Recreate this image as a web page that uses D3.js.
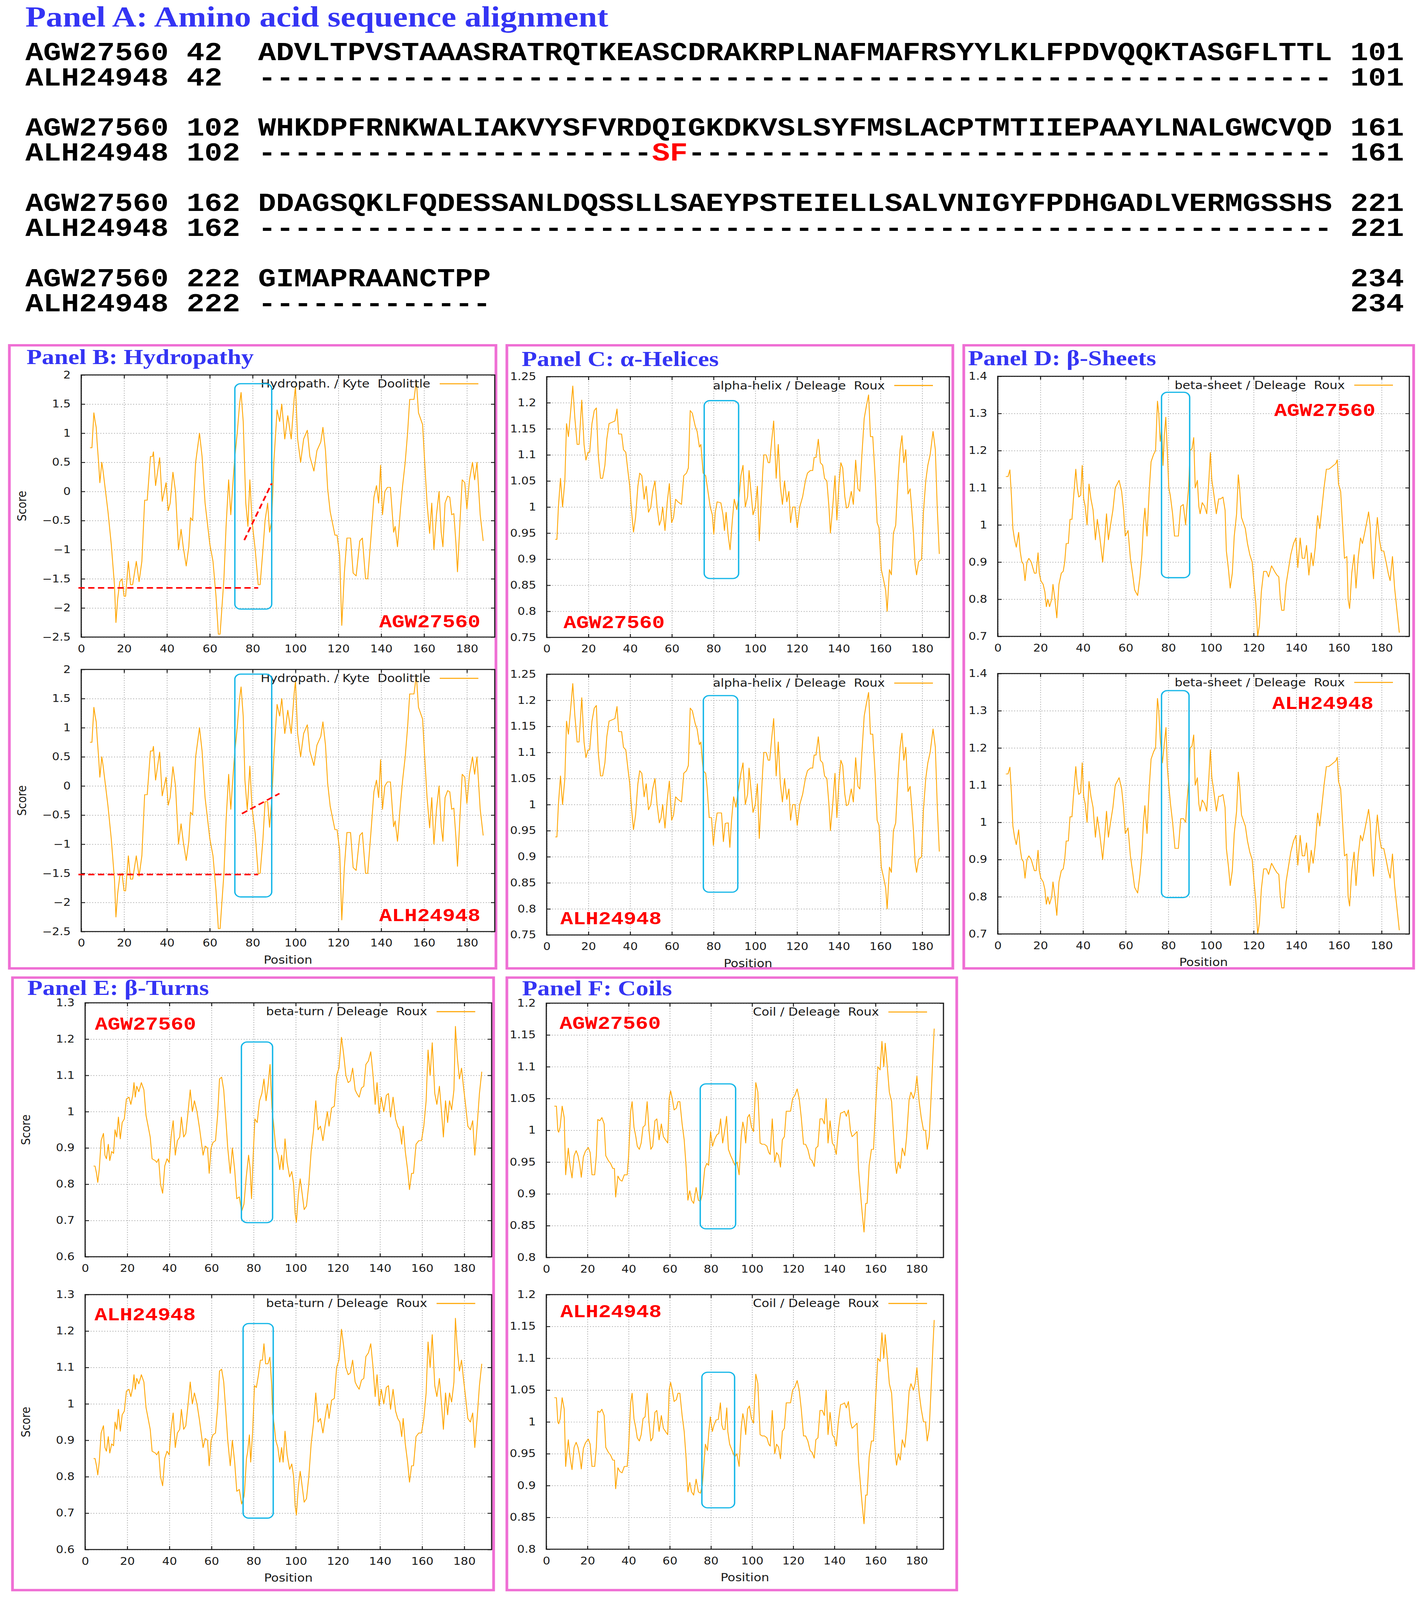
<!DOCTYPE html>
<html>
<head>
<meta charset="utf-8">
<title>AGW27560 vs ALH24948 - alignment and ProtScale profiles</title>
<script src="https://cdn.jsdelivr.net/npm/d3@7"></script>
<style>
  html, body { margin: 0; padding: 0; background: #fff; overflow: hidden; }
  #chart-area svg { display: block; width: 100vw; height: 100vh; }
  text { white-space: pre; }
</style>
</head>
<body>
<div id="chart-area"></div>
<script>
/* ---- data ---- */

var seqNames = ["AGW27560", "ALH24948"];

// alignment blocks: [start, end, AGW27560 residues, ALH24948 residues]
var alignBlocks = [
	[42, 101, "ADVLTPVSTAAASRATRQTKEASCDRAKRPLNAFMAFRSYYLKLFPDVQQKTASGFLTTL",
	          "------------------------------------------------------------"],
	[102, 161, "WHKDPFRNKWALIAKVYSFVRDQIGKDKVSLSYFMSLACPTMTIIEPAAYLNALGWCVQD",
	           "----------------------SF------------------------------------"],
	[162, 221, "DDAGSQKLFQDESSANLDQSSLLSAEYPSTEIELLSALVNIGYFPDHGADLVERMGSSHS",
	           "------------------------------------------------------------"],
	[222, 234, "GIMAPRAANCTPP",
	           "-------------"]
];

var xTicks = [0, 20, 40, 60, 80, 100, 120, 140, 160, 180];
var hydroTicks = [-2.5, -2, -1.5, -1, -0.5, 0, 0.5, 1, 1.5, 2];
var alphaTicks = [0.75, 0.8, 0.85, 0.9, 0.95, 1, 1.05, 1.1, 1.15, 1.2, 1.25];
var sheetTicks = [0.7, 0.8, 0.9, 1, 1.1, 1.2, 1.3, 1.4];
var turnTicks = [0.6, 0.7, 0.8, 0.9, 1, 1.1, 1.2, 1.3];
var coilTicks = [0.8, 0.85, 0.9, 0.95, 1, 1.05, 1.1, 1.15, 1.2];

// [position, score] - Kyte & Doolittle hydropathy, AGW27560
var hydroAGW = [[4.1,0.75],[5,0.75],[5.6,1.15],[5.9,1.35],[6.5,1.2],[7,1.1],[7.4,0.85],[8.1,0.5],[8.7,0.15],[9.6,0.5],[10.2,0.35],[12.5,-0.35],[14,-0.9],[15.5,-1.6],[16.2,-2.25],[17,-1.85],[18,-1.55],[19,-1.5],[20,-1.8],[20.7,-1.8],[22,-1.2],[23,-1.6],[24,-1.6],[25.7,-1.2],[27,-1.55],[28.3,-1.2],[29.6,-0.15],[30.8,-0.15],[32.3,0.6],[33.3,0.6],[33.7,0.68],[34.7,0.1],[36.6,0.58],[37.8,-0.17],[39.6,0.15],[40.6,-0.33],[41.5,-0.2],[42.8,0.33],[44,0],[45.4,-1.0],[46.6,-0.65],[47.6,-0.95],[49,-1.28],[50.2,-0.95],[51,-0.45],[52,-0.5],[53.4,0.5],[55.2,1.0],[56.4,0.6],[57.8,-0.2],[60,-0.9],[61.5,-1.2],[62.9,-1.8],[64,-2.45],[64.8,-2.45],[66.6,-1.5],[67.6,-0.6],[68.8,0.2],[69.8,-0.4],[70.9,0.2],[71.7,0.6],[72.8,1.0],[73.9,1.5],[74.6,1.7],[75.6,1.2],[76.8,-0.2],[77.8,-0.6],[78.7,0.2],[79.7,-0.5],[81.2,-1.0],[82.6,-1.6],[83.5,-1.6],[84.8,-1.0],[85.8,-0.5],[87,-0.2],[87.9,-0.7],[88.9,-0.5],[89.9,0.5],[91.4,1.4],[92.6,1.2],[93.6,1.5],[95,0.9],[96.4,1.3],[98,0.9],[99.4,1.6],[100,1.8],[101,0.9],[102.4,0.5],[103.8,0.9],[105.5,1.05],[106.7,0.6],[108.6,0.35],[110,0.7],[111.8,0.85],[112.8,1.1],[114,0.7],[115,0.05],[116.2,-0.35],[118.4,-0.75],[119.4,-0.75],[120.6,-1.1],[121.6,-2.3],[122.8,-1.4],[124,-0.8],[125.7,-0.8],[126.9,-1.4],[128.3,-1.45],[130,-0.85],[131.2,-0.8],[132.7,-1.5],[133.7,-1.5],[135.2,-0.8],[136.6,-0.1],[137.8,0.1],[138.8,-0.2],[139.7,0.45],[140.6,-0.4],[141.7,0],[142.9,0.07],[144.3,0.07],[145.8,-0.7],[146.5,-0.6],[147.6,-0.95],[149,-0.3],[150,0.1],[151.2,0.5],[152.3,1.0],[153.3,1.58],[155.3,1.58],[156.4,1.9],[157.4,1.35],[159.3,1.15],[160.3,0.5],[161.4,-0.2],[162.6,-0.72],[163.6,-0.2],[164.6,-1.0],[165.8,-0.4],[167,0],[168,-0.7],[168.8,-0.95],[169.8,-0.2],[171,-0.08],[172,-0.1],[172.9,-0.4],[173.9,-0.38],[174.9,-0.9],[175.6,-1.38],[176.8,-0.5],[177.8,0.2],[179,0.15],[180,-0.3],[181.2,0.2],[182.6,0.5],[183.6,0.2],[184.7,0.5],[186.2,-0.4],[187.6,-0.85]];
// ALH24948 differs only around the SF substitution
var hydroALHWindow = [[76.4,0.1],[77.5,-0.41],[78.7,0.34],[79.7,-0.37],[81.2,-0.82],[82.6,-1.51],[83.5,-1.5],[84.8,-0.92],[85.8,-0.27],[87,-0.27],[87.9,-0.71],[88.9,-0.24]];

// alpha-helix / Deleage & Roux
var alphaAGW = [[4.1,0.938],[4.9,0.938],[5.6,1.0],[6.6,1.055],[7.6,1.0],[8.7,1.05],[9.5,1.16],[10.4,1.135],[11.4,1.18],[12.5,1.232],[13.5,1.17],[14.6,1.12],[15.5,1.12],[16.8,1.205],[17.9,1.12],[18.8,1.09],[19.8,1.105],[20.6,1.105],[21.7,1.16],[22.8,1.185],[23.8,1.19],[24.7,1.1],[25.8,1.055],[26.8,1.055],[27.9,1.08],[28.8,1.13],[29.9,1.16],[31.6,1.163],[32.7,1.165],[33.7,1.188],[34.5,1.14],[35.9,1.14],[36.8,1.11],[37.9,1.105],[38.9,1.07],[39.8,1.04],[40.5,1.0],[41.6,0.952],[42.6,0.98],[43.7,1.04],[44.6,1.065],[45.6,1.06],[46.7,1.015],[47.7,1.04],[48.8,0.99],[49.9,1.0],[50.8,1.03],[51.9,1.05],[52.9,1.0],[54,0.965],[54.8,0.975],[55.6,1.0],[56.7,0.955],[57.8,1.01],[58.8,1.045],[59.9,0.97],[60.8,0.98],[61.8,1.015],[62.9,1.01],[64.6,1.005],[65.7,1.06],[67,1.065],[67.9,1.075],[68.8,1.185],[69.8,1.18],[71.2,1.155],[72.1,1.145],[73.2,1.115],[73.9,1.12],[75,1.065],[76.2,1.06],[77.3,1.03],[78.4,1.0],[79.4,0.985],[80.1,0.948],[80.8,0.99],[81.7,1.01],[83.5,1.008],[84.5,0.985],[85.2,0.955],[86,0.99],[87,0.945],[87.9,0.918],[89,0.975],[89.9,1.015],[91.1,0.995],[92.2,1.02],[93.1,1.06],[94.1,1.08],[95.2,1.0],[96.3,1.02],[97,1.07],[97.9,1.03],[98.9,0.985],[100,1.0],[101,1.04],[101.9,0.935],[102.7,1.0],[103.6,1.07],[104.1,1.1],[105.2,1.1],[106.2,1.085],[106.9,1.085],[107.8,1.125],[108.8,1.165],[109.3,1.12],[110,1.055],[111,1.12],[112,1.04],[113,1.005],[114,1.05],[115.1,1.01],[116.1,1.03],[116.9,0.97],[117.9,1.0],[119,1.0],[120.1,0.96],[121.3,1.0],[122.7,1.02],[124,1.05],[125,1.065],[126.4,1.07],[127.5,1.07],[128.2,1.095],[129.1,1.095],[130.2,1.13],[131.2,1.085],[132.3,1.08],[133.2,1.055],[134.3,1.05],[135.3,1.0],[136,0.95],[137.1,1.0],[138.2,1.06],[139.1,0.975],[140.1,1.045],[141,1.085],[141.9,1.075],[142.9,1.02],[143.7,0.998],[144.6,1.0],[146,1.03],[147,1.005],[148.1,1.09],[149.2,1.035],[150.1,1.03],[151.1,1.1],[152.2,1.17],[153.3,1.195],[154.3,1.215],[155.2,1.135],[156.3,1.135],[157.4,1.06],[158.4,0.97],[159.3,0.96],[160.4,0.88],[161.5,0.86],[162.5,0.84],[163.2,0.8],[164.3,0.88],[165.2,0.87],[166.2,0.95],[167.3,0.965],[168.4,1.05],[169.4,1.11],[170.3,1.137],[171.2,1.085],[172.1,1.11],[173.2,1.025],[174.2,1.035],[174.9,1.0],[175.8,0.95],[176.6,0.89],[177.3,0.87],[178.3,0.895],[179.7,0.9],[180.6,0.99],[181.7,1.05],[182.7,1.08],[183.8,1.1],[185.2,1.145],[186.3,1.11],[187.2,1.0],[188.2,0.91]];
var alphaALHWindow = [[76.9,1.032],[77.9,0.975],[79,0.975],[79.9,0.922],[80.8,0.96],[81.7,0.984],[83.8,0.984],[84.7,0.929],[85.6,0.964],[87,0.965],[87.8,0.918],[88.6,0.97],[89.6,1.015],[90.7,0.995],[91.6,1.02]];

// beta-sheet / Deleage & Roux
var sheetAGW = [[3.8,1.13],[4.8,1.13],[5.7,1.148],[6.4,1.08],[7.1,0.99],[7.9,0.96],[8.7,0.94],[9.8,0.98],[10.5,0.93],[11.3,0.9],[12,0.895],[12.8,0.85],[13.7,0.9],[14.6,0.91],[15.7,0.9],[17.2,0.87],[18,0.87],[18.9,0.925],[19.5,0.87],[20.2,0.85],[21.3,0.84],[22.1,0.82],[22.8,0.78],[23.5,0.8],[24.3,0.78],[25.3,0.8],[25.9,0.84],[26.8,0.8],[27.7,0.75],[28.7,0.84],[29.8,0.87],[30.7,0.875],[31.4,0.9],[32.1,0.95],[33.1,0.95],[33.9,1.015],[34.8,1.015],[35.5,1.07],[36.6,1.15],[37.3,1.1],[38,1.075],[38.9,1.08],[39.6,1.16],[40.3,1.07],[41,1.05],[41.9,1.0],[42.8,1.11],[43.7,1.07],[44.7,1.04],[45.8,0.96],[46.7,1.015],[47.8,0.97],[49.2,0.9],[50.1,0.96],[51,1.03],[51.9,0.96],[52.9,1.0],[54,1.04],[55.1,1.1],[56,1.11],[56.9,1.12],[58.1,1.09],[59,1.04],[59.8,0.97],[61.1,0.985],[62.2,0.91],[63.3,0.865],[64.2,0.825],[65.6,0.81],[66.7,0.86],[67.6,0.92],[68.3,1.0],[69,1.045],[70,0.97],[71,1.09],[71.9,1.17],[73.1,1.19],[74,1.2],[74.9,1.333],[75.5,1.3],[76.2,1.225],[76.9,1.26],[77.5,1.16],[78.1,1.24],[78.8,1.29],[79.5,1.2],[80.2,1.1],[80.9,1.08],[82,1.03],[82.9,0.97],[84.7,0.97],[85.8,1.05],[87,1.055],[88.1,1.0],[88.8,1.055],[89.5,1.1],[90.2,1.2],[91.1,1.205],[91.9,1.235],[92.6,1.1],[93.6,1.12],[94.3,1.05],[94.9,1.03],[95.9,1.06],[97,1.05],[98,1.03],[99,1.12],[99.7,1.195],[100.4,1.12],[101.4,1.08],[102.5,1.03],[103.6,1.07],[104.5,1.07],[105.6,1.075],[106.6,1.04],[107.2,0.93],[108.2,0.88],[109,0.83],[110,0.87],[110.9,0.97],[112,1.03],[112.8,1.135],[113.4,1.1],[114.3,1.02],[115.2,1.005],[116.1,0.99],[117.1,0.95],[118.2,0.92],[119.3,0.9],[120.2,0.84],[121,0.79],[121.9,0.7],[122.7,0.73],[123.6,0.82],[124.7,0.875],[126,0.875],[127,0.86],[128.4,0.89],[129.8,0.875],[130.9,0.865],[131.8,0.86],[132.5,0.8],[133.2,0.77],[134.2,0.77],[135.2,0.84],[136.3,0.88],[137.4,0.92],[138.7,0.95],[139.8,0.965],[140.7,0.885],[141.8,0.965],[142.8,0.91],[143.9,0.91],[144.8,0.945],[145.9,0.865],[147,0.925],[147.9,0.89],[148.9,0.94],[150,1.025],[151,0.99],[151.9,1.04],[153,1.1],[154.1,1.15],[155.2,1.15],[156.4,1.155],[157.4,1.16],[158.5,1.165],[159.2,1.175],[159.8,1.11],[160.8,1.09],[161.7,1.0],[162.6,0.91],[163.7,0.915],[164.3,0.8],[165,0.775],[166,0.87],[167.1,0.92],[168,0.83],[169,0.91],[170.1,0.965],[171,0.95],[172.1,0.98],[173.1,1.01],[173.9,1.035],[174.6,1.0],[175.5,0.9],[176.2,0.855],[177.2,0.96],[178,1.02],[179,0.96],[179.9,0.93],[181,0.93],[182.1,0.9],[183.1,0.87],[184,0.85],[185.1,0.915],[186.1,0.83],[187.2,0.77],[188.3,0.71]];
var sheetALHWindow = [[77.2,1.16],[77.9,1.2],[78.9,1.255],[79.5,1.15],[80.2,1.1],[81,1.05],[82,1.0],[83.1,0.93],[84.7,0.93],[85.8,1.01],[87.1,1.01],[88.1,1.0],[88.8,1.06],[89.7,1.12]];

// beta-turn / Deleage & Roux
var turnAGW = [[4,0.85],[4.7,0.85],[5.4,0.83],[6,0.805],[6.7,0.84],[7.6,0.92],[8.7,0.94],[9.4,0.88],[10.1,0.87],[11,0.91],[11.7,0.865],[12.6,0.89],[13.5,0.885],[14.2,0.95],[15,0.93],[15.8,0.985],[16.7,0.925],[17.6,0.97],[18.6,0.98],[19.6,1.035],[20.8,1.04],[21.7,1.02],[22.6,1.045],[23.2,1.08],[23.8,1.04],[24.5,1.07],[25.5,1.055],[26.7,1.08],[27.9,1.06],[28.9,0.99],[29.9,0.96],[30.9,0.93],[31.8,0.87],[33.3,0.865],[34,0.86],[34.9,0.87],[35.8,0.8],[36.8,0.775],[37.8,0.85],[38.9,0.87],[39.9,0.86],[40.8,0.93],[41.8,0.975],[42.8,0.88],[43.8,0.92],[44.9,0.93],[45.7,0.985],[46.8,0.93],[47.8,0.94],[48.8,0.995],[49.9,1.06],[50.9,1.0],[51.9,1.03],[53.1,1.0],[54.3,0.955],[55.1,0.92],[56,0.88],[57,0.905],[58.1,0.9],[58.9,0.83],[59.8,0.9],[60.7,0.915],[61.9,0.92],[62.9,0.99],[63.8,1.09],[64.8,1.095],[65.8,1.06],[66.9,0.97],[67.7,0.9],[68.9,0.83],[69.9,0.9],[71,0.84],[72,0.76],[73.2,0.765],[74.3,0.725],[75.4,0.745],[76.5,0.82],[77.6,0.88],[78.3,0.845],[79,0.76],[79.8,0.88],[80.6,0.98],[81.7,0.97],[82.8,1.03],[83.9,1.05],[84.9,1.09],[85.9,1.03],[86.8,1.07],[87.8,1.13],[88.7,1.01],[89.4,0.97],[90.5,0.9],[91.5,0.88],[92.4,0.84],[93.3,0.88],[94,0.84],[94.9,0.925],[95.9,0.86],[97.1,0.82],[98.1,0.835],[99,0.8],[99.7,0.72],[100.3,0.695],[101.2,0.77],[102.1,0.815],[102.9,0.78],[104,0.73],[105.1,0.74],[106.2,0.8],[107.3,0.89],[108.4,0.945],[109.5,1.03],[110.6,0.95],[111.7,0.96],[112.9,0.92],[113.9,0.96],[115,1.0],[115.8,0.96],[117,1.01],[118.3,1.015],[119.4,1.1],[120.5,1.12],[121.7,1.205],[122.7,1.16],[123.8,1.1],[124.9,1.08],[125.9,1.085],[127,1.12],[128.2,1.06],[129,1.05],[130.1,1.04],[131.2,1.065],[132.3,1.07],[133.3,1.13],[134.5,1.14],[135.6,1.165],[136.7,1.1],[137.7,1.02],[138.6,1.08],[139.6,0.995],[140.6,1.04],[141.8,1.0],[143,1.045],[144,1.05],[145,0.985],[146.2,1.04],[147.4,0.98],[148.4,0.96],[149.4,0.95],[150.3,0.91],[151,0.96],[152,0.89],[153.1,0.84],[154,0.785],[155,0.83],[155.9,0.83],[157.1,0.91],[158.4,0.92],[159.7,0.92],[160.8,0.96],[161.9,1.03],[162.8,1.17],[163.8,1.1],[164.8,1.19],[166,1.05],[167,1.02],[168.2,1.07],[169.2,1.0],[170.1,0.93],[171.1,1.03],[172.1,0.97],[173,1.03],[174,1.005],[175.1,1.06],[175.8,1.235],[176.7,1.15],[177.7,1.09],[178.7,1.12],[179.6,1.07],[180.6,1.02],[181.7,0.96],[182.9,0.95],[184,0.975],[185,0.88],[186.1,0.96],[187.2,1.05],[188.3,1.11]];
var turnALHWindow = [[75.7,0.76],[76.6,0.85],[77.2,0.87],[78,0.915],[78.6,0.84],[79.5,0.92],[80.4,1.05],[81.3,1.045],[82.3,1.08],[83.2,1.12],[84.2,1.12],[84.9,1.165],[85.7,1.11],[86.8,1.11],[87.7,1.128],[88.6,1.05],[89,0.975],[89.8,0.94]];

// coil / Deleage & Roux
var coilAGW = [[3.9,1.038],[4.9,1.038],[5.6,1.0],[6,0.997],[6.7,1.005],[7.7,1.038],[8.7,1.02],[9.4,0.93],[9.8,0.945],[10.7,0.972],[11.5,0.945],[12.5,0.925],[13.5,0.96],[14.5,0.968],[15.4,0.96],[16.3,0.945],[17,0.926],[18,0.958],[19,0.967],[20.4,0.973],[21.3,0.965],[22.2,0.93],[23.5,0.93],[24.3,0.96],[25,1.017],[26,1.015],[27,1.02],[28.1,1.01],[28.9,0.96],[30.2,0.952],[31.2,0.948],[32.3,0.94],[33.1,0.94],[33.7,0.895],[34.8,0.928],[35.8,0.922],[36.8,0.92],[37.9,0.93],[39.3,0.93],[40,0.96],[41,1.03],[41.7,1.045],[42.6,1.005],[43.5,0.99],[44.2,0.975],[45.2,0.97],[46.1,0.98],[47,1.005],[48,1.008],[49,1.045],[49.9,1.0],[50.8,0.97],[51.7,0.975],[52.8,1.015],[53.7,1.018],[54.8,0.985],[55.9,1.01],[56.9,0.99],[57.9,0.985],[59,0.98],[59.7,1.05],[60.4,1.062],[61.2,1.05],[62.1,1.032],[63.2,1.035],[64,1.045],[64.9,1.045],[66,1.01],[67,0.985],[68,0.94],[68.8,0.89],[69.7,0.905],[70.6,0.89],[71.6,0.885],[72.8,0.91],[73.9,0.89],[74.9,0.888],[75.8,0.9],[77,0.94],[78,0.948],[78.9,0.945],[79.8,0.998],[80.8,0.975],[81.7,0.985],[82.9,0.993],[83.8,0.995],[84.7,1.018],[85.7,0.98],[86.7,1.0],[87.6,1.022],[88.5,0.97],[89.6,0.96],[90.6,0.953],[91.7,0.945],[92.7,0.95],[93.7,0.93],[94.7,0.99],[95.5,1.013],[96.3,1.0],[96.9,0.98],[97.8,1.02],[98.7,1.025],[99.7,1.005],[100.7,0.998],[101.8,1.075],[102.8,1.06],[103.9,0.98],[104.9,0.978],[106,0.978],[107.2,0.975],[108.1,0.965],[108.8,0.962],[109.8,1.018],[111,0.95],[111.9,0.965],[112.9,0.96],[113.8,0.942],[114.7,0.985],[115.7,0.99],[116.6,1.03],[117.7,1.03],[118.7,1.03],[119.7,1.05],[120.8,1.055],[121.9,1.065],[122.9,1.05],[123.9,1.02],[125,0.978],[126,0.978],[127.1,0.97],[128.2,0.955],[129.2,0.952],[130.2,0.943],[131,0.972],[132,0.975],[133,1.018],[134.1,1.018],[135.1,1.01],[136,1.05],[136.9,0.98],[137.9,1.015],[139,0.98],[140,0.975],[140.9,0.962],[141.9,1.0],[143,1.027],[144,1.028],[144.9,1.03],[145.8,1.022],[146.8,1.032],[147.8,1.0],[148.6,0.99],[149.6,0.993],[151,0.998],[151.7,0.94],[152.7,0.9],[153.5,0.87],[154.4,0.84],[155.2,0.885],[155.9,0.885],[156.9,0.945],[158,0.97],[159,0.97],[160.1,1.04],[161.1,1.1],[162.2,1.095],[163.1,1.14],[164,1.1],[164.7,1.137],[165.7,1.1],[166.7,1.06],[167.8,1.045],[168.8,0.99],[169.7,0.945],[170.2,0.932],[171.1,0.95],[172,0.94],[173,0.972],[174.2,0.96],[175.1,0.99],[176.3,1.048],[177.2,1.06],[178.4,1.05],[179.2,1.06],[180.1,1.085],[181.2,1.045],[182.2,1.02],[183.3,1.0],[184.3,1.0],[185.1,0.97],[186.1,0.99],[187.1,1.06],[187.9,1.12],[188.5,1.16]];
var coilALHWindow = [[77.3,0.965],[78.3,0.955],[79,0.985],[79.7,1.008],[80.7,0.985],[81.5,0.995],[82.5,1.003],[83.6,1.004],[84.6,1.03],[85.3,0.995],[86,0.988],[86.8,0.988],[87.7,1.022],[88.2,0.985],[89.1,0.965],[89.9,0.958],[90.9,0.95],[91.6,0.945],[92.6,0.95]];

/* ALH24948 profile = AGW27560 profile with the window around the SF site swapped */
function withWindow(base, lo, hi, win) {
	return base.filter(function(d){ return d[0] <= lo || d[0] >= hi; })
		.concat(win)
		.sort(function(a, b){ return a[0] - b[0]; });
}
var hydroALH = withWindow(hydroAGW, 76, 89.5, hydroALHWindow);
var alphaALH = withWindow(alphaAGW, 76.5, 92.5, alphaALHWindow);
var sheetALH = withWindow(sheetAGW, 76.5, 90, sheetALHWindow);
var turnALH = withWindow(turnAGW, 75.5, 90, turnALHWindow);
var coilALH = withWindow(coilAGW, 76.5, 93.2, coilALHWindow);

/* ---- styles ---- */
var titleBlue = "#3434f4";
var panelPink = "#ef6fd4";
var boxCyan = "#14b6e8";
var lineOrange = "#ffa500";
var tagRed = "#ff0000";
var sansFont = "DejaVu Sans";
var W = 3644, H = 4694;

// laid out in 3644 x 4694 units, stretched onto whatever the window is
var svg = d3.select("#chart-area")
	.append("svg")
	.attr("viewBox", "0 0 " + W + " " + H)
	.attr("preserveAspectRatio", "none");

svg.append("rect")
	.attr("width", W)
	.attr("height", H)
	.attr("fill", "#fff");

/* ---- Panel A: alignment ---- */
svg.append("text")
	.attr("x", 65)
	.attr("y", 78)
	.attr("font-family", "Liberation Serif")
	.attr("font-weight", "bold")
	.attr("font-size", 86)
	.attr("fill", titleBlue)
	.text("Panel A: Amino acid sequence alignment");

var charW = 45.85;
var colX = function(c){ return 65 + c * charW; };

// split a residue string into runs: gaps black, substitutions red
function runs(seq, isRef) {
	var out = [];
	seq.split("").forEach(function(ch) {
		var red = !isRef && ch !== "-";
		var last = out[out.length - 1];
		if (last && last.red === red) { last.s += ch; }
		else { out.push({ s: ch, red: red }); }
	});
	return out;
}

alignBlocks.forEach(function(b, i) {
	var yTop = 177 + i * 220.9;
	[b[2], b[3]].forEach(function(seq, j) {
		var row = svg.append("g")
			.attr("font-family", "Liberation Mono")
			.attr("font-weight", "bold")
			.attr("font-size", 76.4)
			.attr("fill", "#000");
		var y = yTop + j * 73.5;
		row.append("text").attr("x", colX(0)).attr("y", y).text(seqNames[j]);
		row.append("text").attr("x", colX(9)).attr("y", y).text(b[0]);
		row.append("text").attr("x", colX(74)).attr("y", y).text(b[1]);
		row.append("text")
			.attr("x", colX(13))
			.attr("y", y)
			.selectAll("tspan")
			.data(runs(seq, j === 0))
			.enter()
			.append("tspan")
				.attr("fill", function(d){ return d.red ? tagRed : "#000"; })
				.text(function(d){ return d.s; });
	});
});

/* ---- panel frames and titles ---- */
var panels = [
	{ title: "Panel B: Hydropathy", x: 24, y: 1013, w: 1246, h: 1828, tx: 68, ty: 1068 },
	{ title: "Panel C: \u03b1-Helices", x: 1298, y: 1013, w: 1142, h: 1828, tx: 1336, ty: 1074 },
	{ title: "Panel D: \u03b2-Sheets", x: 2468, y: 1013, w: 1152, h: 1828, tx: 2479, ty: 1072 },
	{ title: "Panel E: \u03b2-Turns", x: 32, y: 2868, w: 1232, h: 1797, tx: 70, ty: 2919 },
	{ title: "Panel F: Coils", x: 1298, y: 2868, w: 1152, h: 1797, tx: 1337, ty: 2920 }
];

panels.forEach(function(p) {
	svg.append("rect")
		.attr("x", p.x)
		.attr("y", p.y)
		.attr("width", p.w)
		.attr("height", p.h)
		.attr("fill", "none")
		.attr("stroke", panelPink)
		.attr("stroke-width", 7);
	svg.append("text")
		.attr("x", p.tx)
		.attr("y", p.ty)
		.attr("font-family", "Liberation Serif")
		.attr("font-weight", "bold")
		.attr("font-size", 64)
		.attr("fill", titleBlue)
		.text(p.title);
});

/* ---- one gnuplot-like profile plot ---- */
function drawPlot(o) {
	var x = d3.scaleLinear().domain([0, 193]).range([o.left, o.right]);
	var y = d3.scaleLinear().domain(o.yDomain).range([o.bottom, o.top]);
	var w = o.right - o.left;
	var h = o.bottom - o.top;
	var g = svg.append("g");

	// dotted grid
	var gridX = g.append("g")
		.attr("transform", "translate(0," + o.bottom + ")")
		.call(d3.axisBottom(x).tickValues(xTicks).tickSize(-h).tickFormat(""));
	var gridY = g.append("g")
		.attr("transform", "translate(" + o.left + ",0)")
		.call(d3.axisLeft(y).tickValues(o.ticks).tickSize(-w).tickFormat(""));
	[gridX, gridY].forEach(function(gr) {
		gr.select(".domain").remove();
		gr.selectAll("text").remove();
		gr.selectAll("line")
			.attr("stroke", "#a6a6a6")
			.attr("stroke-width", 2)
			.attr("stroke-dasharray", "2.5,4.5");
	});

	// profile line
	var line = d3.line()
		.x(function(d){ return x(d[0]); })
		.y(function(d){ return y(d[1]); });
	g.append("path")
		.datum(o.data)
		.attr("d", line)
		.attr("fill", "none")
		.attr("stroke", lineOrange)
		.attr("stroke-width", 2.2)
		.attr("stroke-linejoin", "round");

	// frame
	g.append("rect")
		.attr("x", o.left)
		.attr("y", o.top)
		.attr("width", w)
		.attr("height", h)
		.attr("fill", "none")
		.attr("stroke", "#1a1a1a")
		.attr("stroke-width", 3);

	// inward ticks on all four sides, labels left and bottom
	var fmt = d3.format("~g");
	var axL = g.append("g")
		.attr("transform", "translate(" + o.left + ",0)")
		.call(d3.axisLeft(y).tickValues(o.ticks).tickSize(-10).tickPadding(27).tickFormat(fmt));
	var axR = g.append("g")
		.attr("transform", "translate(" + o.right + ",0)")
		.call(d3.axisRight(y).tickValues(o.ticks).tickSize(-10).tickFormat(""));
	var axB = g.append("g")
		.attr("transform", "translate(0," + o.bottom + ")")
		.call(d3.axisBottom(x).tickValues(xTicks).tickSize(-10).tickPadding(23));
	var axT = g.append("g")
		.attr("transform", "translate(0," + o.top + ")")
		.call(d3.axisTop(x).tickValues(xTicks).tickSize(-10).tickFormat(""));
	[axL, axR, axB, axT].forEach(function(ax) {
		ax.select(".domain").remove();
		ax.attr("font-family", sansFont)
			.attr("font-size", 30)
			.attr("color", "#1a1a1a");
		ax.selectAll("line").attr("stroke-width", 2.5);
	});
	axR.selectAll("text").remove();
	axT.selectAll("text").remove();

	// legend
	g.append("text")
		.attr("x", o.right - 165)
		.attr("y", o.top + 37)
		.attr("text-anchor", "end")
		.attr("font-family", sansFont)
		.attr("font-size", 32)
		.attr("fill", "#1a1a1a")
		.text(o.legend);
	g.append("line")
		.attr("x1", o.right - 141)
		.attr("x2", o.right - 42)
		.attr("y1", o.top + 26)
		.attr("y2", o.top + 26)
		.attr("stroke", lineOrange)
		.attr("stroke-width", 3);

	// highlighted SF region
	g.append("rect")
		.attr("x", x(o.box[0]))
		.attr("y", y(o.box[2]))
		.attr("width", x(o.box[1]) - x(o.box[0]))
		.attr("height", y(o.box[3]) - y(o.box[2]))
		.attr("rx", 15)
		.attr("ry", 15)
		.attr("fill", "none")
		.attr("stroke", boxCyan)
		.attr("stroke-width", 3.5);

	// red reference dashes
	(o.dashes || []).forEach(function(s) {
		g.append("line")
			.attr("x1", x(s[0]))
			.attr("y1", y(s[1]))
			.attr("x2", x(s[2]))
			.attr("y2", y(s[3]))
			.attr("stroke", tagRed)
			.attr("stroke-width", 4.5)
			.attr("stroke-dasharray", "16,9");
	});

	// sequence tag
	g.append("text")
		.attr("x", o.tagX)
		.attr("y", o.tagY)
		.attr("font-family", "Liberation Mono")
		.attr("font-weight", "bold")
		.attr("font-size", 54)
		.attr("fill", tagRed)
		.text(o.tag);

	if (o.score) {
		g.append("text")
			.attr("transform", "translate(" + (o.left - 141) + "," + ((o.top + o.bottom) / 2) + ") rotate(-90)")
			.attr("text-anchor", "middle")
			.attr("font-family", sansFont)
			.attr("font-size", 32)
			.attr("fill", "#1a1a1a")
			.text("Score");
	}
	if (o.position) {
		g.append("text")
			.attr("x", (o.left + o.right) / 2)
			.attr("y", o.bottom + 94)
			.attr("text-anchor", "middle")
			.attr("font-family", sansFont)
			.attr("font-size", 32)
			.attr("fill", "#1a1a1a")
			.text("Position");
	}
}

var hydroLegend = "Hydropath. / Kyte  Doolittle";

drawPlot({ left: 208, right: 1267, top: 1100, bottom: 1869, yDomain: [-2.5, 2], ticks: hydroTicks,
	data: hydroAGW, legend: hydroLegend, tag: seqNames[0], tagX: 971, tagY: 1840,
	box: [71.7, 88.9, 1.85, -2.02], score: true,
	dashes: [[-1.3, -1.656, 82.6, -1.656], [76.1, -0.836, 88.9, 0.138]] });
drawPlot({ left: 208, right: 1267, top: 1964, bottom: 2733, yDomain: [-2.5, 2], ticks: hydroTicks,
	data: hydroALH, legend: hydroLegend, tag: seqNames[1], tagX: 971, tagY: 2702,
	box: [71.7, 88.9, 1.92, -1.905], score: true, position: true,
	dashes: [[-1.3, -1.52, 82.6, -1.52], [75.0, -0.476, 92.5, -0.13]] });

drawPlot({ left: 1400, right: 2431, top: 1105, bottom: 1870, yDomain: [0.75, 1.25], ticks: alphaTicks,
	data: alphaAGW, legend: "alpha-helix / Deleage  Roux", tag: seqNames[0], tagX: 1443, tagY: 1843,
	box: [75.5, 92, 1.204, 0.863] });
drawPlot({ left: 1400, right: 2431, top: 1978, bottom: 2743, yDomain: [0.75, 1.25], ticks: alphaTicks,
	data: alphaALH, legend: "alpha-helix / Deleage  Roux", tag: seqNames[1], tagX: 1435, tagY: 2712,
	box: [75.1, 91.6, 1.209, 0.832], position: true });

drawPlot({ left: 2555, right: 3609, top: 1104, bottom: 1867, yDomain: [0.7, 1.4], ticks: sheetTicks,
	data: sheetAGW, legend: "beta-sheet / Deleage  Roux", tag: seqNames[0], tagX: 3263, tagY: 1221,
	box: [76.8, 90, 1.357, 0.858] });
drawPlot({ left: 2555, right: 3609, top: 1976, bottom: 2740, yDomain: [0.7, 1.4], ticks: sheetTicks,
	data: sheetALH, legend: "beta-sheet / Deleage  Roux", tag: seqNames[1], tagX: 3258, tagY: 2080,
	box: [76.8, 89.7, 1.354, 0.798], position: true });

drawPlot({ left: 218, right: 1259, top: 2942, bottom: 3687, yDomain: [0.6, 1.3], ticks: turnTicks,
	data: turnAGW, legend: "beta-turn / Deleage  Roux", tag: seqNames[0], tagX: 243, tagY: 3021,
	box: [74.2, 89, 1.192, 0.694], score: true });
drawPlot({ left: 218, right: 1259, top: 3798, bottom: 4546, yDomain: [0.6, 1.3], ticks: turnTicks,
	data: turnALH, legend: "beta-turn / Deleage  Roux", tag: seqNames[1], tagX: 242, tagY: 3874,
	box: [75.0, 89.3, 1.2206, 0.6863], score: true, position: true });

drawPlot({ left: 1399, right: 2416, top: 2943, bottom: 3689, yDomain: [0.8, 1.2], ticks: coilTicks,
	data: coilAGW, legend: "Coil / Deleage  Roux", tag: seqNames[0], tagX: 1433, tagY: 3018,
	box: [74.8, 92, 1.073, 0.845] });
drawPlot({ left: 1399, right: 2416, top: 3798, bottom: 4545, yDomain: [0.8, 1.2], ticks: coilTicks,
	data: coilALH, legend: "Coil / Deleage  Roux", tag: seqNames[1], tagX: 1435, tagY: 3864,
	box: [75.6, 91.5, 1.078, 0.865], position: true });
</script>
</body>
</html>
